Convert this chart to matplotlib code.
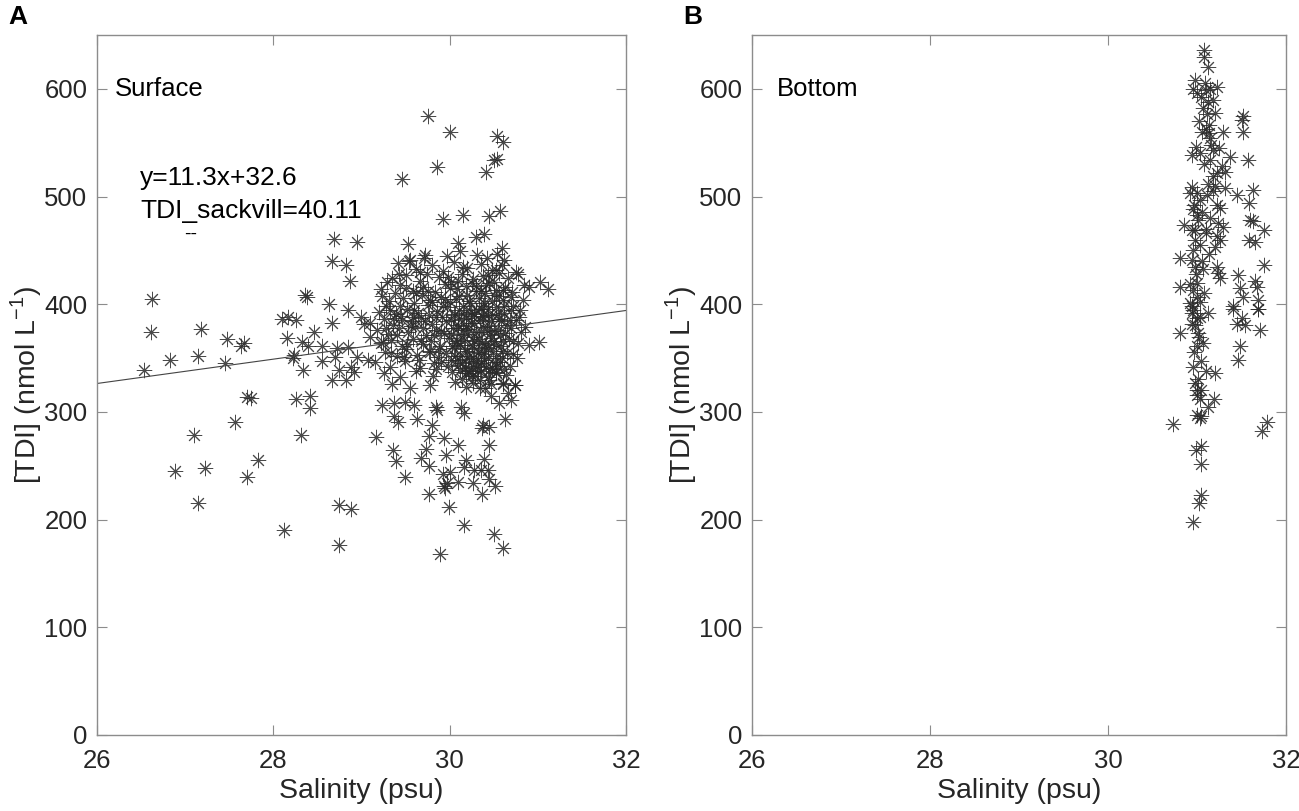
import matplotlib.pyplot as plt
import numpy as np

plt.rcParams['font.family'] = ['Liberation Sans', 'DejaVu Sans']

# ---- surface samples: sparse low-salinity / outlying points ----
surf_outer_sal = [26.62, 26.61, 26.53, 26.83, 27.18, 27.15, 27.47, 27.45, 27.63, 27.67,
                  27.70, 27.75, 27.57, 27.10, 26.89, 27.23, 27.14, 27.83, 27.70, 28.12,
                  28.74, 28.88, 28.75, 28.10, 28.17, 28.26, 28.15, 28.36, 28.38, 28.63,
                  28.66, 28.82, 28.69, 28.95, 28.87, 28.66, 28.85, 28.23, 28.22, 28.33,
                  28.46, 28.39, 28.55, 28.34, 28.55, 28.72, 28.70, 28.85, 28.67, 28.82,
                  28.74, 28.91, 28.88, 28.26, 28.42, 28.42, 28.31,
                  29.75, 30.00, 30.54, 30.60, 30.54, 30.50, 29.86, 30.41, 29.46, 29.92,
                  30.15, 30.45, 30.57, 29.53, 30.09, 30.30, 30.39, 29.71, 30.59, 30.90,
                  31.03, 31.11, 31.01, 30.90,
                  29.23, 29.37, 29.49, 29.59, 29.37, 29.41, 29.63, 29.16, 29.36, 29.39,
                  29.49, 29.73, 29.68, 29.77, 29.77, 29.94, 29.80, 29.84, 29.86, 29.96,
                  30.10, 30.13, 30.16, 29.92, 30.00, 29.94, 29.97, 30.09, 30.18, 30.16,
                  30.28, 30.35, 30.39, 30.43, 30.45, 30.27, 30.51, 30.37, 29.76, 29.95,
                  29.99, 30.16, 30.50, 30.61, 29.89, 30.38, 30.45, 30.37, 30.45, 30.47,
                  30.56, 30.69, 30.63, 30.60, 30.74]
surf_outer_tdi = [405, 374, 339, 348, 377, 352, 368, 345, 361, 364,
                  314, 313, 291, 279, 245, 248, 215, 255, 240, 190,
                  214, 210, 176, 386, 388, 385, 369, 409, 407, 400,
                  440, 436, 461, 458, 422, 383, 395, 353, 350, 365,
                  374, 361, 361, 339, 347, 359, 351, 360, 330, 330,
                  339, 337, 342, 312, 315, 304, 279,
                  575, 560, 556, 551, 535, 534, 527, 523, 516, 479,
                  483, 482, 487, 456, 457, 462, 465, 443, 452, 416,
                  421, 414, 365, 362,
                  306, 308, 309, 306, 296, 291, 293, 277, 265, 254,
                  240, 266, 257, 250, 278, 276, 288, 305, 302, 260,
                  269, 305, 299, 242, 244, 231, 234, 235, 255, 249,
                  246, 246, 256, 246, 238, 234, 231, 224, 224, 229,
                  212, 195, 187, 174, 168, 288, 286, 285, 269, 315,
                  308, 311, 293, 326, 325]

# ---- surface samples: dense cluster around S 29-31 ----
surf_core_sal = [29.55, 29.72, 29.97, 30.12, 30.31, 30.42, 30.54, 30.62,
                 29.41, 29.62, 29.80, 29.93, 30.05, 30.20, 30.36, 30.48, 30.59, 30.75,
                 29.29, 29.35, 29.50, 29.66, 29.74, 29.88, 30.02, 30.14, 30.27, 30.38,
                 30.45, 30.56, 30.66, 30.78,
                 29.22, 29.44, 29.58, 29.70, 29.83, 29.95, 30.08, 30.18, 30.30, 30.41,
                 30.52, 30.63, 30.71, 30.84,
                 29.23, 29.31, 29.47, 29.60, 29.69, 29.78, 29.90, 30.00, 30.11, 30.22,
                 30.33, 30.39, 30.50, 30.60, 30.69, 30.83,
                 29.20, 29.28, 29.39, 29.52, 29.64, 29.75, 29.86, 29.97, 30.06, 30.15,
                 30.24, 30.35, 30.44, 30.53, 30.62, 30.72, 30.79,
                 28.99, 29.10, 29.25, 29.36, 29.45, 29.57, 29.68, 29.80, 29.91, 30.02,
                 30.10, 30.19, 30.28, 30.37, 30.47, 30.56, 30.65, 30.75, 30.86,
                 29.03, 29.18, 29.30, 29.42, 29.53, 29.61, 29.73, 29.84, 29.94, 30.04,
                 30.13, 30.21, 30.30, 30.38, 30.46, 30.55, 30.63, 30.70, 30.81,
                 29.10, 29.22, 29.34, 29.46, 29.58, 29.70, 29.79, 29.89, 29.99, 30.07,
                 30.16, 30.25, 30.33, 30.41, 30.50, 30.58, 30.67, 30.77,
                 28.95, 29.07, 29.27, 29.40, 29.51, 29.63, 29.76, 29.87, 29.96, 30.05,
                 30.12, 30.20, 30.27, 30.36, 30.44, 30.53, 30.61, 30.72,
                 29.15, 29.32, 29.49, 29.66, 29.82, 29.98, 30.08, 30.17, 30.24, 30.31,
                 30.39, 30.48, 30.57, 30.68,
                 29.26, 29.44, 29.62, 29.81, 30.03, 30.14, 30.22, 30.29, 30.35, 30.43,
                 30.52, 30.64,
                 29.35, 29.55, 29.78, 30.06, 30.18, 30.26, 30.34, 30.47, 30.60, 30.74,
                 29.92, 29.96, 30.01, 30.03, 30.06, 30.09, 30.11, 30.13, 30.15, 30.17,
                 30.19, 30.21, 30.23, 30.25, 30.26, 30.28, 30.30, 30.32, 30.34, 30.36,
                 30.37, 30.39, 30.41, 30.43, 30.45, 30.47, 30.49, 30.51, 30.53, 30.55,
                 30.57, 30.59, 29.85, 29.82, 29.78, 29.75, 29.72, 29.68, 29.65, 29.60,
                 29.56, 29.52, 29.48, 29.44, 29.40, 29.37, 29.33, 30.00, 30.10, 30.20,
                 30.30, 30.40, 30.50, 30.60, 30.70, 30.65, 30.62, 30.45, 30.25, 30.12,
                 29.90, 30.08, 30.18, 30.28, 30.38, 30.48,
                 30.02, 30.05, 30.07, 30.09, 30.12, 30.14, 30.16, 30.18, 30.20, 30.22,
                 30.24, 30.26, 30.28, 30.30, 30.32, 30.34, 30.36, 30.38, 30.40, 30.42,
                 30.44, 30.46, 30.48, 30.50, 30.52, 30.54, 30.56, 30.58, 30.60, 30.62,
                 29.98, 29.95, 29.90, 29.88, 29.85, 29.80, 29.76, 29.70, 29.66, 29.62,
                 29.58, 29.54, 29.50, 29.46, 29.42, 29.38, 29.32, 29.28, 29.24, 30.35,
                 30.25, 30.15, 30.44, 30.52, 30.68, 30.72, 30.76, 30.80, 30.66, 30.40]
surf_core_tdi = [441, 446, 445, 449, 446, 443, 447, 441,
                 438, 433, 436, 431, 439, 434, 437, 432, 436, 430,
                 421, 424, 427, 422, 428, 425, 421, 428, 423, 426,
                 420, 429, 424, 428,
                 414, 418, 412, 416, 411, 419, 414, 417, 412, 418,
                 413, 416, 411, 418,
                 408, 403, 406, 401, 409, 404, 407, 402, 408, 403,
                 406, 401, 409, 404, 407, 404,
                 393, 398, 391, 396, 392, 399, 394, 397, 391, 398,
                 393, 396, 390, 397, 392, 398, 388,
                 388, 383, 386, 381, 389, 384, 387, 382, 388, 385,
                 381, 387, 383, 389, 384, 386, 381, 385, 379,
                 382, 376, 372, 378, 374, 379, 371, 376, 373, 378,
                 371, 377, 374, 379, 372, 376, 373, 378, 374,
                 370, 364, 367, 361, 368, 363, 366, 361, 369, 364,
                 367, 362, 368, 363, 366, 361, 368, 364,
                 351, 348, 356, 352, 358, 353, 357, 351, 355, 359,
                 352, 357, 350, 355, 359, 352, 357, 354,
                 346, 342, 347, 341, 345, 343, 348, 341, 346, 343,
                 348, 341, 346, 343,
                 336, 332, 338, 333, 337, 331, 336, 333, 338, 332,
                 336, 334,
                 326, 322, 325, 328, 323, 327, 322, 326, 327, 325,
                 398, 384, 372, 361, 352, 344, 395, 386, 376, 358,
                 349, 338, 401, 389, 370, 359, 347, 339, 385, 374,
                 364, 354, 342, 396, 380, 369, 357, 346, 337, 391,
                 371, 350, 388, 371, 356, 412, 384, 366, 348, 395,
                 380, 363, 351, 398, 371, 387, 355, 415, 422, 409,
                 417, 410, 421, 413, 395, 355, 340, 330, 333, 339,
                 346, 366, 380, 391, 398, 403,
                 348, 390, 405, 378, 362, 345, 392, 336, 372, 352,
                 383, 342, 366, 395, 356, 330, 345, 388, 360, 376,
                 350, 340, 390, 375, 362, 343, 408, 384, 366, 398,
                 425, 405, 375, 358, 340, 402, 390, 378, 430, 410,
                 388, 440, 415, 385, 428, 410, 395, 378, 365, 412,
                 420, 435, 427, 432, 385, 366, 350, 395, 318, 322]

# ---- bottom samples ----
bot_sal = [31.08, 31.08, 30.98, 30.96, 31.09, 31.10, 31.15, 31.22, 31.07, 31.11,
           31.20, 31.52, 31.50, 31.52, 31.13, 31.13, 31.15, 31.29, 31.10, 30.99,
           30.94, 31.03, 31.18, 31.15, 31.37, 31.57, 31.28, 31.22, 31.31, 31.18,
           30.94, 30.92, 31.00, 31.03, 31.11, 31.18, 31.31, 31.45, 31.63, 31.22,
           31.26, 31.58, 30.96, 31.00, 31.01, 30.98, 30.85, 30.94, 31.24, 31.29,
           31.22, 31.26, 31.20, 31.59, 31.63, 31.75, 31.58, 31.65, 30.96, 30.94,
           30.98, 30.81, 31.07, 31.22, 31.24, 31.26, 31.46, 31.75, 30.81, 30.92,
           30.96, 31.00, 30.94, 31.65, 31.67, 31.48, 31.52, 31.69, 31.41, 31.69,
           30.92, 30.94, 31.00, 31.03, 30.94, 30.98, 30.81, 31.01, 31.41, 31.50,
           31.45, 31.54, 31.69, 31.71, 31.00, 31.07, 31.48, 31.46, 30.96, 31.05,
           31.20, 31.01, 30.98, 31.00, 31.00, 31.03, 31.19, 31.00, 31.03, 31.05,
           30.73, 31.79, 31.73, 30.99, 31.05, 31.05, 31.05, 31.02, 30.95,
           31.05, 31.12, 31.02, 31.16, 31.08, 31.12, 30.97, 31.06, 31.10, 31.03,
           31.14, 30.99, 31.08, 31.12, 31.02, 30.97, 31.10, 31.04, 31.12, 30.95,
           31.00, 31.06, 31.15, 31.20, 31.06, 31.12, 31.00, 31.18, 31.25, 31.10,
           30.98, 31.03]
bot_tdi = [636, 630, 608, 600, 605, 599, 600, 602, 582, 577,
           578, 575, 571, 560, 566, 559, 554, 560, 563, 546,
           539, 540, 543, 534, 537, 534, 528, 522, 523, 519,
           509, 503, 503, 497, 501, 505, 508, 501, 506, 492,
           489, 494, 488, 483, 478, 469, 474, 469, 475, 472,
           463, 460, 453, 478, 477, 469, 460, 458, 450, 441,
           435, 443, 433, 435, 429, 424, 427, 436, 416, 419,
           413, 407, 398, 422, 416, 415, 407, 404, 398, 396,
           401, 392, 387, 388, 382, 381, 373, 373, 396, 387,
           382, 381, 396, 376, 361, 364, 361, 348, 342, 347,
           336, 331, 327, 320, 316, 312, 312, 297, 294, 296,
           289, 291, 282, 265, 268, 252, 223, 215, 198,
           592, 588, 570, 548, 530, 512, 492, 486, 466, 455,
           447, 428, 410, 392, 370, 356, 338, 320, 305, 395,
           420, 440, 480, 510, 560, 620, 596, 590, 545, 470,
           460, 402]

fit_slope = 11.3
fit_intercept = 32.6
fit_x = [26, 32]

x_ticks = [26, 28, 30, 32]
y_ticks = [0, 100, 200, 300, 400, 500, 600]

STAR = (8, 2, 0)
AX_GRAY = '#8c8c8c'
TXT = '#262626'

fig = plt.figure(figsize=(12.99, 8.11), dpi=100)
ax_l = fig.add_axes([97 / 1299, 76 / 811, 529 / 1299, 700 / 811])
ax_r = fig.add_axes([752 / 1299, 76 / 811, 534 / 1299, 700 / 811])


def style(ax):
    ax.set_xlim(26, 32)
    ax.set_ylim(0, 650)
    ax.set_xticks(x_ticks)
    ax.set_yticks(y_ticks)
    ax.tick_params(direction='in', length=7, width=0.8, color=AX_GRAY,
                   labelsize=18.5, labelcolor=TXT, pad=7,
                   top=True, right=True)
    ax.tick_params(axis='x', pad=10)
    for sp in ax.spines.values():
        sp.set_color(AX_GRAY)
        sp.set_linewidth(1.0)
    ax.set_xlabel('Salinity (psu)', fontsize=20.5, color=TXT, labelpad=4)
    ax.set_ylabel('[TDI] (nmol L$^{\\mathregular{-1}}$)', fontsize=20.5,
                  color=TXT, labelpad=0)


def stars(ax, xs, ys):
    ax.plot(xs, ys, linestyle='none', marker=STAR, markersize=11,
            markeredgewidth=0.7, color='#2a2a2a', alpha=0.85)


# left: surface
stars(ax_l, surf_outer_sal, surf_outer_tdi)
stars(ax_l, surf_core_sal, surf_core_tdi)
fx = np.array(fit_x, dtype=float)
ax_l.plot(fx, fit_slope * fx + fit_intercept, color='#444444', linewidth=0.8)
style(ax_l)
ax_l.text(26.2, 600, 'Surface', fontsize=18.5, color='black', va='center')
ax_l.text(26.49, 517, 'y=11.3x+32.6', fontsize=19, color='black', va='center')
ax_l.text(26.49, 487, 'TDI_sackvill=40.11', fontsize=19, color='black', va='center')
ax_l.text(27.06, 465, '--', fontsize=14, color='black', ha='center', va='center')

# right: bottom
stars(ax_r, bot_sal, bot_tdi)
style(ax_r)
ax_r.text(26.28, 600, 'Bottom', fontsize=18.5, color='black', va='center')

fig.text(8 / 1299, 1 - 17 / 811, 'A', fontsize=19, fontweight='bold', va='center')
fig.text(683 / 1299, 1 - 17 / 811, 'B', fontsize=19, fontweight='bold', va='center')

fig.savefig('out.png', dpi=100)
